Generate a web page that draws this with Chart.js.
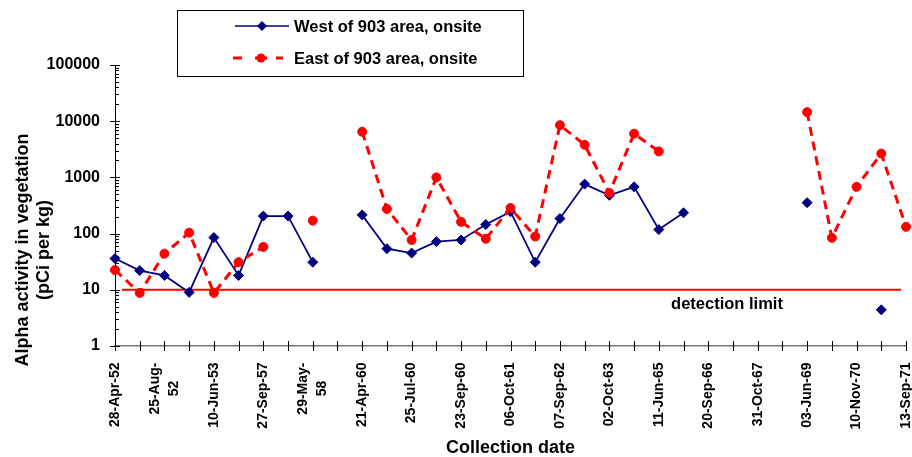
<!DOCTYPE html>
<html>
<head>
<meta charset="utf-8">
<script src="https://cdn.jsdelivr.net/npm/chart.js@4/dist/chart.umd.min.js"></script>
<style>
html,body{margin:0;padding:0;background:#fff;}
canvas{display:block;}
</style>
</head>
<body>
<canvas id="c" width="912" height="457"></canvas>
<script>
// ---- data ----
const categories = ['28-Apr-52','','25-Aug-52','','10-Jun-53','','27-Sep-57','','29-May-58','',
  '21-Apr-60','','25-Jul-60','','23-Sep-60','','06-Oct-61','','07-Sep-62','','02-Oct-63','',
  '11-Jun-65','','20-Sep-66','','31-Oct-67','','03-Jun-69','','10-Nov-70','','13-Sep-71'];
const westValues = [36,22,18,9,85,18,205,205,31,null,
  215,54,45,72,77,145,245,31,185,760,480,680,118,235,
  null,null,null,null,355,null,null,4.4,null];
const eastValues = [22.5,8.8,44,104,8.8,31,58,null,170,null,
  6500,275,77,1000,162,81,285,89,8500,3800,530,6000,2900,null,
  null,null,null,null,14500,84,680,2650,132];
const yTicks = [1,10,100,1000,10000,100000];
const detectionLimit = 10;
const westName = 'West of 903 area, onsite';
const eastName = 'East of 903 area, onsite';
const yTitleLines = ['Alpha activity in vegetation','(pCi per kg)'];
const xTitle = 'Collection date';
const detectionLabel = 'detection limit';
const wrappedLabels = {'25-Aug-52':['25-Aug-','52'],'29-May-58':['29-May-','58']};

const FONT = "'Liberation Sans', Arial, Helvetica, sans-serif";
Chart.defaults.font.family = FONT;
Chart.defaults.color = '#000';

const BLUE = '#000080';
const RED = '#ff0000';

const tickPlugin = {
  id: 'axisTicks',
  beforeDatasetsDraw(chart) {
    const {ctx, chartArea: a, scales: {x, y}} = chart;
    ctx.save();
    ctx.strokeStyle = '#000';
    ctx.lineWidth = 1;
    ctx.beginPath();
    yTicks.forEach((v, k) => {
      const py = Math.round(y.getPixelForValue(v)) + 0.5;
      ctx.moveTo(a.left - 5, py); ctx.lineTo(a.left + 5, py);
      if (k < yTicks.length - 1) {
        for (let m = 2; m <= 9; m++) {
          const p = Math.round(y.getPixelForValue(v * m)) + 0.5;
          ctx.moveTo(a.left, p); ctx.lineTo(a.left + 4, p);
        }
      }
    });
    for (let i = 0; i < categories.length; i++) {
      const px = Math.round(x.getPixelForValue(i)) + 0.5;
      ctx.moveTo(px, a.bottom - 5); ctx.lineTo(px, a.bottom + 5);
    }
    ctx.stroke();
    // detection limit line
    const dy = y.getPixelForValue(detectionLimit);
    ctx.strokeStyle = RED;
    ctx.lineWidth = 2;
    ctx.beginPath();
    ctx.moveTo(a.left + 7, dy); ctx.lineTo(a.right - 5, dy);
    ctx.stroke();
    ctx.fillStyle = '#000';
    ctx.font = 'bold 16.5px ' + FONT;
    ctx.textAlign = 'center';
    ctx.textBaseline = 'middle';
    ctx.fillText(detectionLabel, a.left + 612, dy + 15);
    ctx.restore();
  },
  afterDraw(chart) {
    const {ctx, chartArea: a, scales: {x}} = chart;
    // x tick labels (every labelled category, rotated)
    ctx.save();
    ctx.font = 'bold 14px ' + FONT;
    ctx.fillStyle = '#000';
    ctx.textBaseline = 'middle';
    const top = a.bottom + 16.5;
    categories.forEach((s, i) => {
      if (!s) return;
      const lines = wrappedLabels[s] || [s];
      const px = x.getPixelForValue(i);
      ctx.save();
      if (lines.length === 1) {
        ctx.translate(px, top);
        ctx.rotate(-Math.PI / 2);
        ctx.textAlign = 'right';
        ctx.fillText(s, 0, 0);
      } else {
        const w = ctx.measureText(lines[0]).width;
        ctx.translate(px, top + w / 2);
        ctx.rotate(-Math.PI / 2);
        ctx.textAlign = 'center';
        lines.forEach((l, k) => ctx.fillText(l, 0, (k - (lines.length - 1) / 2) * 19));
      }
      ctx.restore();
    });
    ctx.restore();
    // y title
    ctx.save();
    ctx.font = 'bold 18px ' + FONT;
    ctx.fillStyle = '#000';
    ctx.textAlign = 'center';
    ctx.textBaseline = 'middle';
    ctx.translate(0, 250);
    ctx.rotate(-Math.PI / 2);
    ctx.fillText(yTitleLines[0], 0, 23);
    ctx.fillText(yTitleLines[1], 0, 44);
    ctx.restore();
    // legend
    ctx.save();
    ctx.strokeStyle = '#000';
    ctx.lineWidth = 1;
    ctx.strokeRect(177.5, 10.5, 346, 66);
    ctx.strokeStyle = BLUE;
    ctx.lineWidth = 1.5;
    ctx.beginPath(); ctx.moveTo(235, 26); ctx.lineTo(289, 26); ctx.stroke();
    ctx.fillStyle = BLUE;
    ctx.beginPath(); ctx.moveTo(262, 21); ctx.lineTo(267, 26); ctx.lineTo(262, 31); ctx.lineTo(257, 26); ctx.closePath(); ctx.fill();
    ctx.strokeStyle = RED;
    ctx.lineWidth = 3;
    ctx.beginPath();
    ctx.moveTo(233, 58); ctx.lineTo(242, 58);
    ctx.moveTo(255, 58); ctx.lineTo(267, 58);
    ctx.moveTo(276, 58); ctx.lineTo(283, 58);
    ctx.stroke();
    ctx.fillStyle = RED;
    ctx.beginPath(); ctx.arc(261, 58, 4.5, 0, Math.PI * 2); ctx.fill();
    ctx.fillStyle = '#000';
    ctx.font = 'bold 16.5px ' + FONT;
    ctx.textAlign = 'left';
    ctx.textBaseline = 'middle';
    ctx.fillText(westName, 294, 27);
    ctx.fillText(eastName, 294, 59);
    ctx.restore();
  }
};

new Chart(document.getElementById('c'), {
  type: 'line',
  data: {
    labels: categories,
    datasets: [
      {
        label: westName, data: westValues,
        borderColor: BLUE, backgroundColor: BLUE, borderWidth: 1.8,
        pointStyle: 'rectRot', pointRadius: 5, pointBorderWidth: 1,
        pointBackgroundColor: BLUE, pointBorderColor: BLUE,
        tension: 0, spanGaps: false, clip: false, order: 2
      },
      {
        label: eastName, data: eastValues,
        borderColor: RED, backgroundColor: RED, borderWidth: 3, borderDash: [9, 6],
        pointStyle: 'circle', pointRadius: 4.5, pointBorderWidth: 1,
        pointBackgroundColor: RED, pointBorderColor: RED,
        tension: 0, spanGaps: false, clip: false, order: 1
      }
    ]
  },
  options: {
    responsive: false,
    animation: false,
    devicePixelRatio: 1,
    layout: {padding: {left: 0, top: 65, right: 5, bottom: 0}},
    plugins: {legend: {display: false}, tooltip: {enabled: false}},
    scales: {
      x: {
        type: 'category',
        offset: false,
        grid: {display: false, drawTicks: false},
        border: {display: true, color: '#777', width: 1.5},
        ticks: {display: false, autoSkip: false},
        title: {display: true, text: xTitle, font: {size: 18, weight: 'bold', lineHeight: 1}, color: '#000', padding: {top: 0, bottom: 0}},
        afterFit: (s) => { s.height = 111; s.paddingLeft = 0; s.paddingRight = 0; }
      },
      y: {
        type: 'logarithmic',
        min: yTicks[0], max: yTicks[yTicks.length - 1],
        grid: {display: false, drawTicks: false},
        border: {display: true, color: '#000', width: 1},
        afterBuildTicks: (s) => { s.ticks = yTicks.map(v => ({value: v, major: true})); },
        ticks: {
          padding: 15, color: '#000',
          font: {size: 16, weight: 'bold'},
          callback: (v) => String(v)
        },
        afterFit: (s) => { s.width = 115; }
      }
    }
  },
  plugins: [tickPlugin]
});
</script>
</body>
</html>
